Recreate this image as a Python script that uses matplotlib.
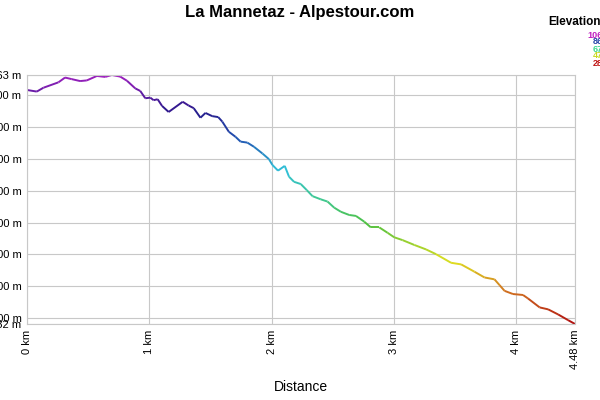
import matplotlib
matplotlib.use("Agg")
import matplotlib.pyplot as plt
import numpy as np
from matplotlib.collections import LineCollection
from matplotlib.colors import LinearSegmentedColormap, Normalize

plt.rcParams["font.family"] = ["Liberation Sans", "DejaVu Sans"]

# ── profile (km, m) ───────────────────────────────────────
dist = [0.0, 0.08, 0.134, 0.257, 0.311, 0.366, 0.434, 0.489, 0.571, 0.639,
        0.694, 0.762, 0.817, 0.885, 0.926, 0.967, 1.008, 1.035, 1.068, 1.104,
        1.158, 1.273, 1.322, 1.363, 1.418, 1.459, 1.514, 1.563, 1.596, 1.650,
        1.705, 1.746, 1.801, 1.855, 1.924, 1.978, 2.006, 2.052, 2.107, 2.142,
        2.183, 2.238, 2.287, 2.334, 2.402, 2.457, 2.511, 2.566, 2.634, 2.689,
        2.757, 2.811, 2.880, 2.948, 3.002, 3.071, 3.166, 3.262, 3.344, 3.467,
        3.549, 3.658, 3.740, 3.822, 3.863, 3.904, 3.973, 4.055, 4.096, 4.191,
        4.260, 4.342, 4.424, 4.48]
elev = [1016, 1011, 1023, 1040, 1055, 1050, 1044, 1046, 1060, 1057,
        1063, 1058, 1045, 1021, 1013, 990, 992, 984, 987, 966,
        947, 979, 967, 959, 929, 944, 934, 931, 917, 885,
        869, 854, 851, 838, 817, 799, 781, 763, 778, 744,
        728, 721, 702, 683, 673, 666, 647, 634, 624, 621,
        603, 585, 585, 568, 554, 545, 530, 516, 501, 474,
        469, 446, 428, 422, 404, 386, 376, 373, 362, 334,
        328, 312, 294, 282]

elev_min, elev_max = 282, 1063
y_ticks = [282, 300, 400, 500, 600, 700, 800, 900, 1000, 1063]
x_ticks = [0, 1, 2, 3, 4, 4.48]
x_labels = ["0 km", "1 km", "2 km", "3 km", "4 km", "4.48 km"]
legend_vals = ["1063", "868", "672", "477", "282"]
legend_cols = ["#c020c0", "#2848a8", "#40d890", "#c8d820", "#c01818"]

# elevation colour ramp, red (low) to purple (high)
cmap = LinearSegmentedColormap.from_list("elev", [
    (0.00, "#b01010"), (0.13, "#d07020"), (0.25, "#e0e020"),
    (0.40, "#50c040"), (0.50, "#40c890"), (0.62, "#30c0d8"),
    (0.75, "#2050b0"), (0.86, "#28188a"), (1.00, "#a020c0")])
norm = Normalize(elev_min, elev_max)

fig = plt.figure(figsize=(6, 4), dpi=100)
fig.patch.set_facecolor("white")
ax = fig.add_axes([27/600, 1-324/400, 548/600, 249/400])

pts = np.column_stack([dist, elev])
segs = np.stack([pts[:-1], pts[1:]], axis=1)
mid = (np.array(elev[:-1]) + np.array(elev[1:])) / 2
lc = LineCollection(segs, colors=cmap(norm(mid)), linewidths=1.4)
ax.add_collection(lc)

ax.set_xlim(0, 4.48)
ax.set_ylim(elev_min, elev_max)
ax.set_yticks(y_ticks)
ax.set_yticklabels([f"{v} m" for v in y_ticks], fontsize=8)
ax.set_xticks(x_ticks)
ax.set_xticklabels(x_labels, fontsize=8, rotation=90)
ax.tick_params(length=0, pad=4)
ax.grid(True, color="#c8c8c8", lw=0.8)
for s in ax.spines.values():
    s.set_color("#c8c8c8")
ax.set_xlabel("Distance", fontsize=10, labelpad=8)

fig.text(0.5, 1-12/400, "La Mannetaz - Alpestour.com", ha="center", va="center",
         fontsize=12, fontweight="bold")
fig.text(548/600, 1-22/400, "Elevation", ha="left", va="center",
         fontsize=8.5, fontweight="bold")
for i, (v, c) in enumerate(zip(legend_vals, legend_cols)):
    fig.text(608/600, 1-(35 + 7*i)/400, v, ha="right", va="center",
             fontsize=6.5, fontweight="bold", color=c)

plt.savefig("out.png", dpi=100, facecolor="white")
